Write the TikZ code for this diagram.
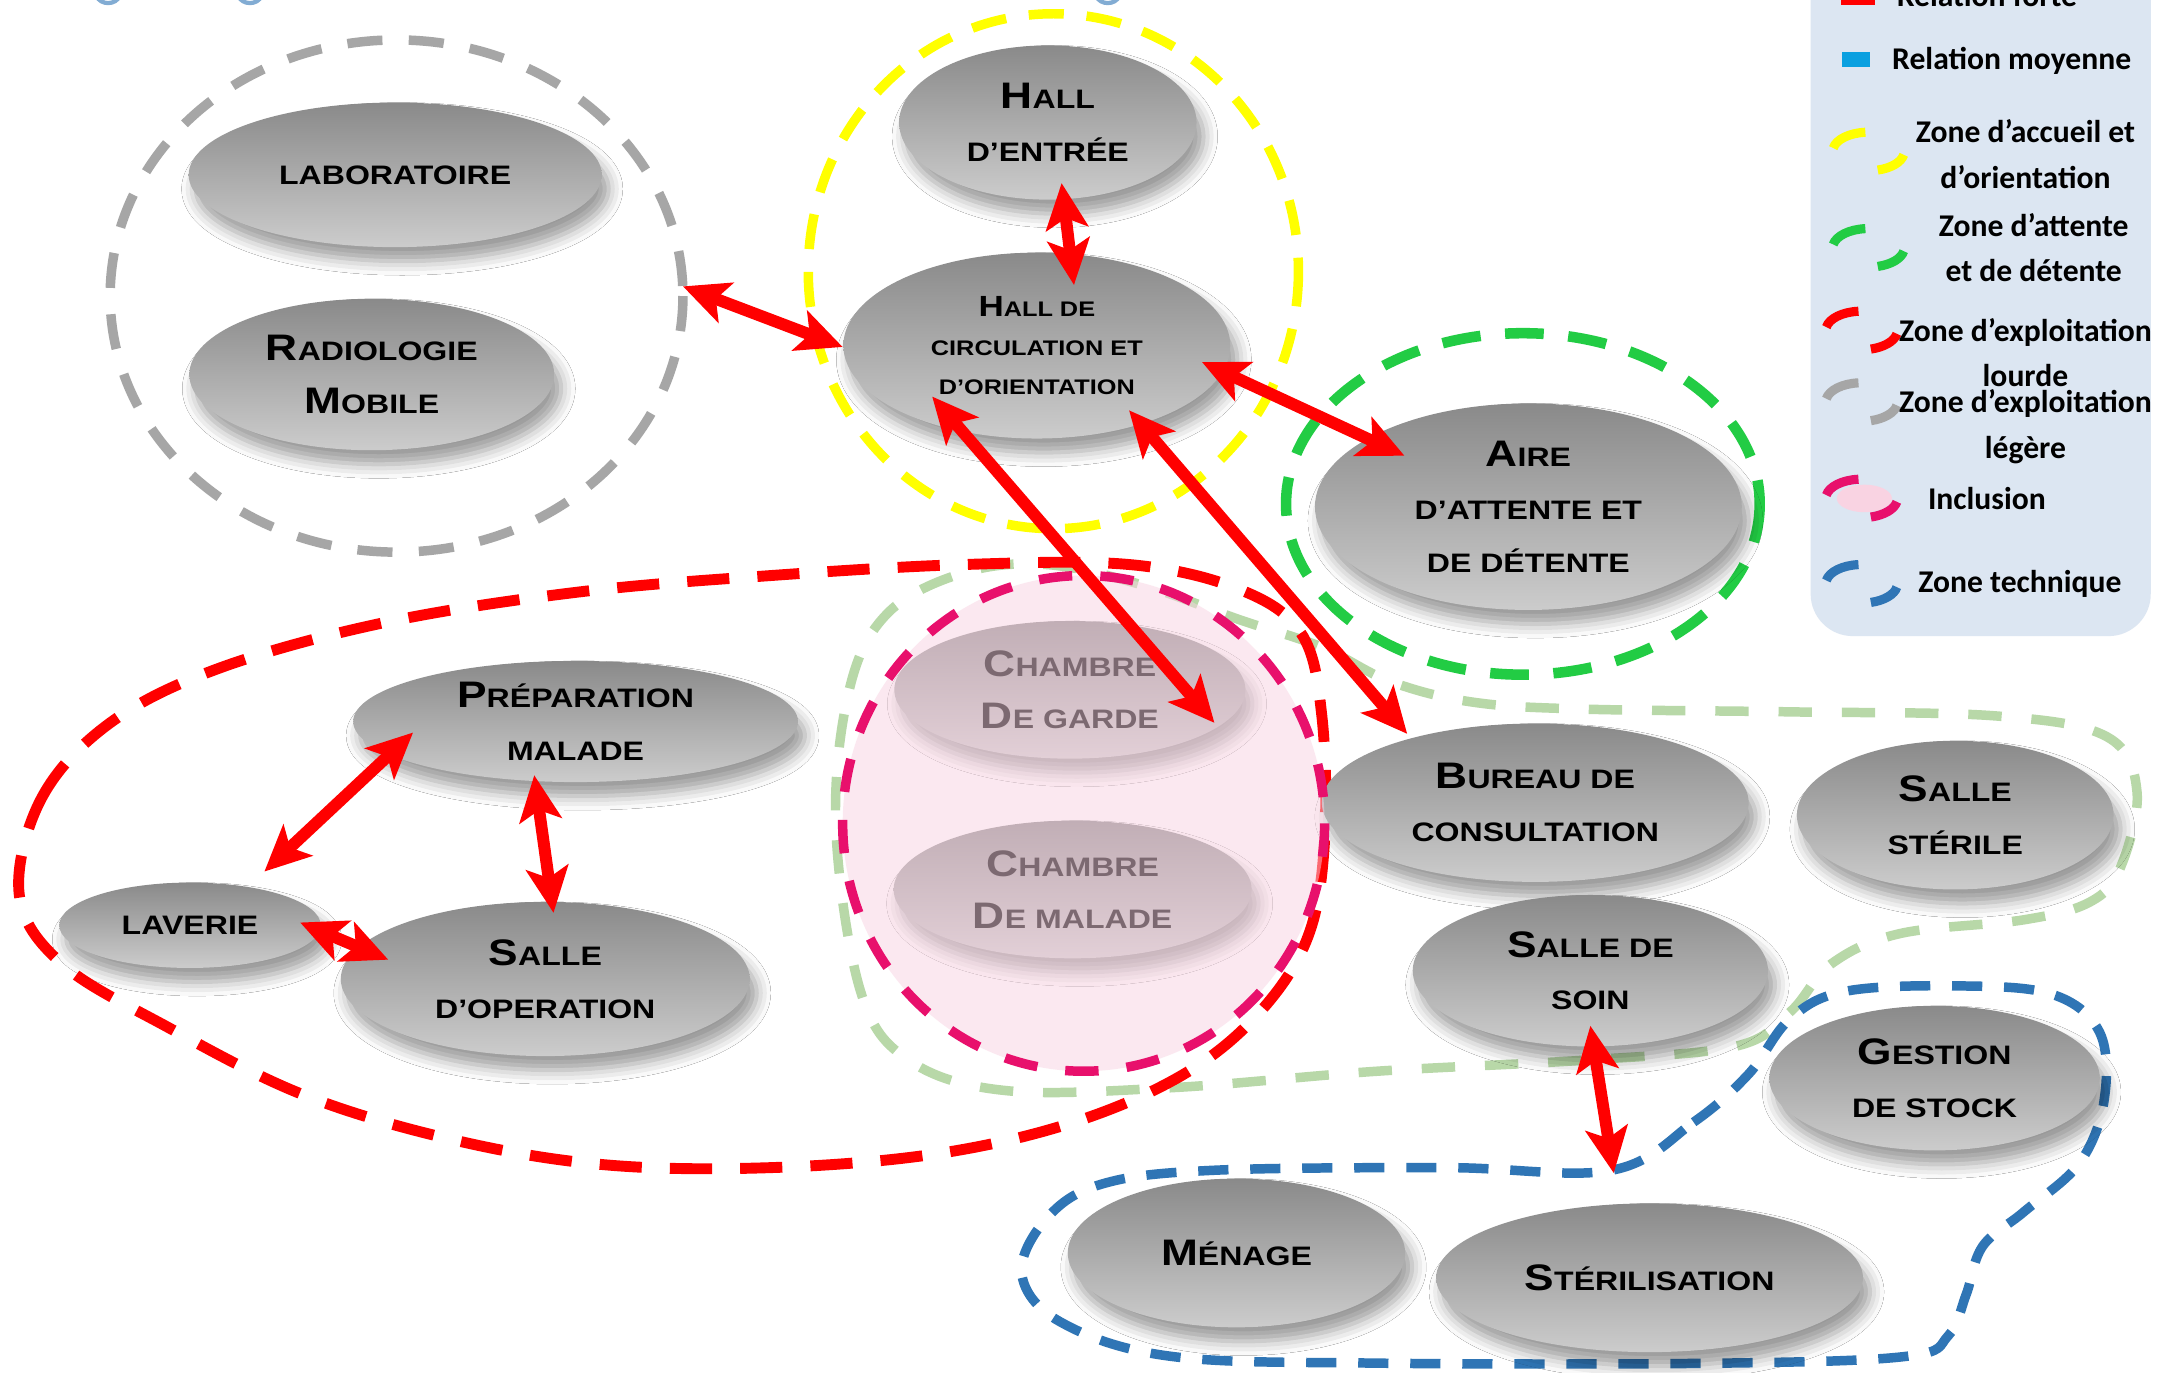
\documentclass[tikz,border=0pt]{standalone}
\usepackage{fontspec}
\setmainfont{Liberation Sans}
\newfontfamily\roomfont{Liberation Sans}[FakeStretch=1.2]
\newfontfamily\legfont{Carlito}
\usetikzlibrary{shapes.geometric,arrows.meta,shadows.blur}
\definecolor{zgray}{HTML}{A6A6A6}
\definecolor{zyellow}{HTML}{FFFF00}
\definecolor{zgreen}{HTML}{22CC44}
\definecolor{zred}{HTML}{FF0000}
\definecolor{zlight}{HTML}{B8D8A8}
\definecolor{zpink}{HTML}{E8106C}
\definecolor{pinkfill}{HTML}{F9D3E2}
\definecolor{zblue}{HTML}{2F75B5}
\definecolor{legbg}{HTML}{DCE6F2}
\definecolor{relblue}{HTML}{0AA0E0}
\newcommand\BC[1]{{\fontsize{10.5}{15}\selectfont #1}}
\newcommand\BCs[1]{{\fontsize{8.3}{11}\selectfont #1}}
\newcommand\zicon[3]{%
  \draw[line width=2.6pt, #3] ([shift={(190:26 and 14)}]#1,#2) arc[start angle=190, end angle=265, x radius=26, y radius=14];
  \draw[line width=2.6pt, #3] ([shift={(75:26 and 14)}]#1,#2) arc[start angle=75, end angle=10, x radius=26, y radius=14];}
\begin{document}
\begin{tikzpicture}[x=0.1377mm,y=-0.1377mm,
  room/.style={ellipse, inner sep=0pt, align=center,
    font=\roomfont\bfseries\fontsize{7.6}{15}\selectfont,
    top color=black!46, bottom color=black!20,
    blur shadow={shadow xshift=2pt, shadow yshift=-4pt, shadow blur radius=4pt, shadow opacity=40}},
  sz/.style 2 args={minimum width=#1*0.1377mm, minimum height=#2*0.1377mm},
  zone/.style={line width=2.7pt, dash pattern=on 10pt off 7.5pt},
  rel/.style={draw=zred, line width=3.4pt,
    {Stealth[length=13pt,width=12pt,inset=3pt]}-{Stealth[length=13pt,width=12pt,inset=3pt]}},
  legtxt/.style={font=\legfont\bfseries\fontsize{9}{12.9}\selectfont, align=center, inner sep=0pt},
]
\useasboundingbox (0,0) rectangle (1568,997);
\fill[white] (0,0) rectangle (1568,997);

% legend
\fill[legbg, rounded corners=12pt] (1315,-40) rectangle (1562,462);
\fill[zred] (1337,-8) rectangle (1362,4);
\fill[relblue] (1338,38) rectangle (1358,49);
\zicon{1357}{110}{zyellow}
\zicon{1357}{180}{zgreen}
\zicon{1352}{240}{zred}
\zicon{1352}{292}{zgray}
\fill[pinkfill] (1354,362) ellipse [x radius=20, y radius=10];
\zicon{1352}{362}{zpink}
\zicon{1352}{424}{zblue}
\node[legtxt] (lrf) at (1443,-3) {Relation forte};
\node[legtxt] (lrm) at (1461,44) {Relation moyenne};
\node[legtxt] (lza) at (1471,112) {Zone d’accueil et\\d’orientation};
\node[legtxt] (lzd) at (1477,180) {Zone d’attente\\et de détente};
\node[legtxt] (lzl) at (1471,256) {Zone d’exploitation\\lourde};
\node[legtxt] (lzg) at (1471,310) {Zone d’exploitation\\légère};
\node[legtxt] (lin) at (1443,362) {Inclusion};
\node[legtxt] (lzt) at (1467,424) {Zone technique};

% small fragments at top edge
\draw[zblue!60, line width=1.2pt] (70,-3) .. controls (73,4) and (84,4) .. (87,-3);
\draw[zblue!60, line width=1.2pt] (173,-3) .. controls (176,4) and (187,4) .. (190,-3);
\draw[zblue!60, line width=1.2pt] (796,-3) .. controls (799,4) and (810,4) .. (813,-3);

% zones
\draw[zone, zgray] (288,215) ellipse [x radius=208, y radius=186];
\draw[zone, zyellow, dash pattern=on 10pt off 6.5pt] (765,197) ellipse [x radius=178, y radius=187];
\draw[zone, zgreen, line width=3pt, dash pattern=on 11pt off 7pt] (1106,366) ellipse [x radius=172, y radius=124];
\draw[zone, zlight, dash pattern=on 9.5pt off 8.5pt] plot[smooth cycle, tension=0.6] coordinates {
  (607,600) (617,500) (645,445) (700,416) (760,410) (830,425) (900,450) (960,470) (1010,495)
  (1070,510) (1150,515) (1300,517) (1450,520) (1530,535) (1552,575) (1540,630) (1518,655)
  (1470,668) (1380,678) (1330,700) (1300,735) (1260,760) (1150,770) (1000,778) (850,790)
  (730,792) (660,770) (625,720)};
\draw[zone, zred, line width=3.1pt, dash pattern=on 12pt off 8pt] plot[smooth cycle, tension=0.6] coordinates {
  (14,650) (30,580) (80,525) (160,485) (280,452) (420,430) (560,418) (700,410) (820,410)
  (900,428) (945,460) (960,520) (962,610) (950,680) (915,735) (860,780) (780,815) (680,838)
  (560,848) (440,846) (330,828) (220,795) (120,745) (45,700)};
\draw[zone, zblue, dash pattern=on 8.6pt off 6.2pt] plot[smooth cycle, tension=0.6] coordinates {
  (1170,850) (1230,815) (1270,780) (1300,740) (1340,720) (1420,716) (1490,722) (1525,750)
  (1528,800) (1510,845) (1470,880) (1440,905) (1428,940) (1415,970) (1385,985) (1250,990)
  (1000,990) (850,985) (770,960) (742,925) (760,885) (800,860) (880,850) (1050,848)};

% rooms
\node[room, sz={300}{105}] (lab) at (287,127) {LABORATOIRE};
\node[room, sz={265}{110}] (radio) at (270,272) {\BC{R}ADIOLOGIE\\\BC{M}OBILE};
\node[room, sz={216}{112}] (hall1) at (761,89) {\BC{H}ALL\\D’ENTRÉE};
\node[room, sz={281}{135}, font=\roomfont\bfseries\fontsize{6}{11.1}\selectfont] (hall2) at (753,251)
  {\BCs{H}ALL DE\\CIRCULATION ET\\D’ORIENTATION};
\node[room, sz={310}{150}] (aire) at (1110,368) {\BC{A}IRE\\D’ATTENTE ET\\DE DÉTENTE};
\node[room, sz={323}{88}] (prep) at (418,524) {\BC{P}RÉPARATION\\MALADE};
\node[room, sz={190}{62}] (lav) at (138,672) {LAVERIE};
\node[room, sz={297}{112}] (sop) at (396,711) {\BC{S}ALLE\\D’OPERATION};
\node[room, sz={255}{100}] (chg) at (777,501) {\BC{C}HAMBRE\\\BC{D}E GARDE};
\node[room, sz={260}{100}] (chm) at (779,646) {\BC{C}HAMBRE\\\BC{D}E MALADE};
\node[room, sz={310}{115}] (bur) at (1115,583) {\BC{B}UREAU DE\\CONSULTATION};
\node[room, sz={230}{108}] (ster) at (1420,592) {\BC{S}ALLE\\STÉRILE};
\node[room, sz={258}{110}] (soin) at (1155,705) {\BC{S}ALLE DE\\SOIN};
\node[room, sz={240}{105}] (stock) at (1405,783) {\BC{G}ESTION\\DE STOCK};
\node[room, sz={245}{108}] (men) at (898,910) {\BC{M}ÉNAGE};
\node[room, sz={310}{108}] (strl) at (1198,928) {\BC{S}TÉRILISATION};

% inclusion zone overlay
\fill[pinkfill, opacity=0.5] (787,598) ellipse [x radius=175, y radius=180];
\draw[zone, zpink, dash pattern=on 9.5pt off 8pt] (787,598) ellipse [x radius=175, y radius=180];

% relations
\coordinate (a1s) at (496,208); \coordinate (a1e) at (612,252);
\coordinate (a2s) at (771,133); \coordinate (a2e) at (780,207);
\coordinate (a3s) at (873,263); \coordinate (a3e) at (1020,331);
\coordinate (a4s) at (677,288); \coordinate (a4e) at (882,525);
\coordinate (a5s) at (820,298); \coordinate (a5e) at (1022,533);
\coordinate (a6s) at (300,532); \coordinate (a6e) at (192,633);
\coordinate (a7s) at (388,563); \coordinate (a7e) at (402,663);
\coordinate (a8s) at (218,670); \coordinate (a8e) at (282,697);
\coordinate (a9s) at (1155,745); \coordinate (a9e) at (1172,852);
\draw[rel] (a1s) -- (a1e);
\draw[rel] (a2s) -- (a2e);
\draw[rel] (a3s) -- (a3e);
\draw[rel] (a4s) -- (a4e);
\draw[rel] (a5s) -- (a5e);
\draw[rel] (a6s) -- (a6e);
\draw[rel] (a7s) -- (a7e);
\draw[rel] (a8s) -- (a8e);
\draw[rel] (a9s) -- (a9e);
\end{tikzpicture}
\end{document}
